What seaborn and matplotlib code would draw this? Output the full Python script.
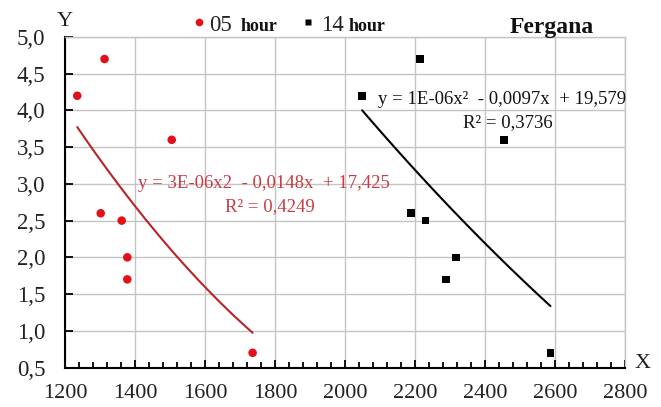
import numpy as np
import pandas as pd
import matplotlib
matplotlib.use("Agg")
import matplotlib.pyplot as plt
from matplotlib.lines import Line2D
from matplotlib.ticker import MultipleLocator, FuncFormatter
import seaborn as sns

# data
x_05 = [1235, 1313, 1505, 1302, 1362, 1378, 1378, 1736]
x_14 = [2049, 2215, 2454, 2189, 2230, 2318, 2288, 2587]
y_vals = [4.2, 4.7, 3.6, 2.6, 2.5, 2.0, 1.7, 0.7]
eq_05 = ["y = 3E-06x2  - 0,0148x  + 17,425", "R\u00b2 = 0,4249"]
eq_14 = ["y = 1E-06x\u00b2  - 0,0097x  + 19,579", "R\u00b2 = 0,3736"]
x_ticks = [1200, 1400, 1600, 1800, 2000, 2200, 2400, 2600, 2800]

df05 = pd.DataFrame({"x": x_05, "y": y_vals})
df14 = pd.DataFrame({"x": x_14, "y": y_vals})

sns.set_theme(style="white")
plt.rcParams["font.family"] = ["Liberation Serif", "DejaVu Serif"]

W, H = 661, 407
fig = plt.figure(figsize=(W / 100, H / 100), dpi=100)
ax = fig.add_axes([65 / W, (H - 367.5) / H, (625 - 65) / W, (367.5 - 37) / H])

def fx(px):
    return px / W

def fy(py):
    return 1 - py / H

red_pt = "#e3101a"
red_ln = "#b8242a"
red_tx = "#cc3a44"

# trend lines are 2nd order polynomial fits, same as the excel trendline
sns.regplot(data=df05, x="x", y="y", order=2, ci=None, ax=ax,
            scatter_kws=dict(s=38, color=red_pt, edgecolor="none", alpha=1, zorder=3),
            line_kws=dict(color=red_ln, lw=1.5))
sns.regplot(data=df14, x="x", y="y", order=2, ci=None, ax=ax, marker="s",
            scatter_kws=dict(s=30, color="black", edgecolor="none", alpha=1, zorder=3),
            line_kws=dict(color="black", lw=1.5))

ax.set_xlim(1200, 2800)
ax.set_ylim(0.5, 5.0)
ax.set_xticks(x_ticks)
ax.xaxis.set_minor_locator(MultipleLocator(40))
ax.yaxis.set_major_locator(MultipleLocator(0.5))
ax.yaxis.set_major_formatter(FuncFormatter(lambda v, p: f"{v:.1f}".replace(".", ",")))
ax.set_xlabel("")
ax.set_ylabel("")

ax.grid(True, which="major", color="#c4c4c4", lw=1.0)
ax.set_axisbelow(True)
for s in ["top", "right"]:
    ax.spines[s].set_color("#c4c4c4")
    ax.spines[s].set_linewidth(1.0)
for s in ["left", "bottom"]:
    ax.spines[s].set_color("black")
    ax.spines[s].set_linewidth(1.5)

ax.tick_params(axis="x", which="major", direction="in", length=6, width=1.3,
               color="black", labelsize=16, pad=12, bottom=True)
ax.tick_params(axis="x", which="minor", direction="in", length=4.5, width=1.3,
               color="black", bottom=True)
ax.tick_params(axis="y", which="major", direction="in", length=6, width=1.3,
               color="black", labelsize=16.5, pad=14, left=True)
for lab in ax.get_xticklabels() + ax.get_yticklabels():
    lab.set_color("#222222")

# axis letters
fig.text(fx(65), fy(22), "Y", fontsize=16, ha="center", va="center", color="#222222")
fig.text(fx(643), fy(364), "X", fontsize=16, ha="center", va="center", color="#222222")

# equations
fig.text(fx(138), fy(184), eq_05[0], fontsize=13.5, color=red_tx, ha="left", va="center")
fig.text(fx(270), fy(207), eq_05[1], fontsize=13.5, color=red_tx, ha="center", va="center")
fig.text(fx(378), fy(100), eq_14[0], fontsize=13.5, color="#111111", ha="left", va="center")
fig.text(fx(508), fy(123), eq_14[1], fontsize=13.5, color="#111111", ha="center", va="center")

# legend on top
fig.add_artist(Line2D([fx(199)], [fy(22)], marker="o", ms=5.5, color=red_pt,
                      mec="none", transform=fig.transFigure))
fig.text(fx(209), fy(31), "05", fontsize=16.5, color="#222222", va="baseline")
fig.text(fx(241), fy(31), "hour", fontsize=13, fontweight="bold", color="#111111", va="baseline")
fig.add_artist(Line2D([fx(308)], [fy(22)], marker="s", ms=5, color="black",
                      mec="none", transform=fig.transFigure))
fig.text(fx(321), fy(31), "14", fontsize=16.5, color="#222222", va="baseline")
fig.text(fx(349), fy(31), "hour", fontsize=13, fontweight="bold", color="#111111", va="baseline")

fig.text(fx(510), fy(33), "Fergana", fontsize=17, fontweight="bold", color="#111111", va="baseline")

fig.savefig("out.png", dpi=100)
